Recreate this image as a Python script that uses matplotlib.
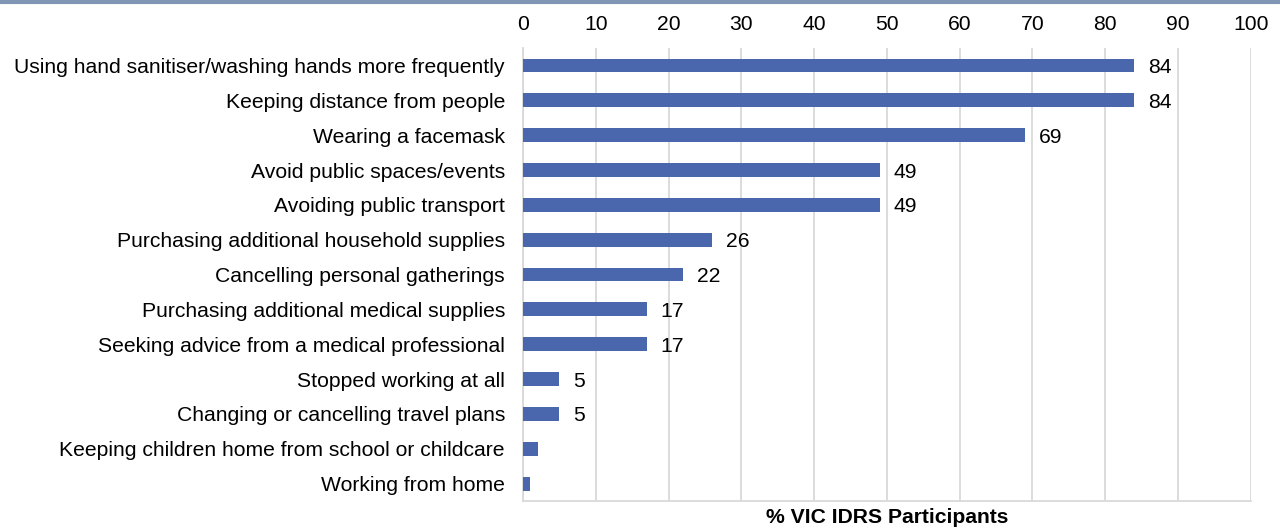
import matplotlib.pyplot as plt
import matplotlib.lines as mlines

plt.rcParams['font.family'] = ['Liberation Sans', 'DejaVu Sans']

categories = [
    "Using hand sanitiser/washing hands more frequently",
    "Keeping distance from people",
    "Wearing a facemask",
    "Avoid public spaces/events",
    "Avoiding public transport",
    "Purchasing additional household supplies",
    "Cancelling personal gatherings",
    "Purchasing additional medical supplies",
    "Seeking advice from a medical professional",
    "Stopped working at all",
    "Changing or cancelling travel plans",
    "Keeping children home from school or childcare",
    "Working from home",
]
values = [84, 84, 69, 49, 49, 26, 22, 17, 17, 5, 5, 2, 1]
shown = [True] * 11 + [False, False]
xticks = [0, 10, 20, 30, 40, 50, 60, 70, 80, 90, 100]

fs = 15.2

fig = plt.figure(figsize=(12.8, 5.31), dpi=100)
ax = fig.add_axes([0.4086, 0.0565, 0.5686, 0.853])

y = list(range(len(categories)))
bars = ax.barh(y, values, height=0.4, color='#4A66AC', zorder=3)
ax.set_ylim(len(categories) - 0.5, -0.5)
ax.set_xlim(0, 100)

for b, v, s in zip(bars, values, shown):
    if s:
        ax.annotate(str(v), (b.get_width(), b.get_y() + b.get_height() / 2),
                    xytext=(10, 0), textcoords='offset points',
                    va='center_baseline', ha='left', fontsize=fs)

ax.set_yticks(y)
ax.set_yticklabels(categories, fontsize=fs)
ax.set_xticks(xticks)
ax.set_xticklabels([str(t) for t in xticks], fontsize=fs)
ax.xaxis.tick_top()
ax.tick_params(axis='y', length=0, pad=13)
ax.tick_params(axis='x', length=0, pad=10)
ax.grid(axis='x', color='#D9D9D9', linewidth=1.3, zorder=0)

for side in ['top', 'right']:
    ax.spines[side].set_visible(False)
for side in ['left', 'bottom']:
    ax.spines[side].set_color('#D9D9D9')
    ax.spines[side].set_linewidth(1.3)

ax.set_xlabel('% VIC IDRS Participants', fontsize=fs, fontweight='bold', labelpad=5)
ax.xaxis.set_label_position('bottom')

fig.add_artist(mlines.Line2D([0, 1], [0.9965, 0.9965], transform=fig.transFigure,
                             color='#8096B4', linewidth=3))

fig.savefig('out.png', dpi=100)
